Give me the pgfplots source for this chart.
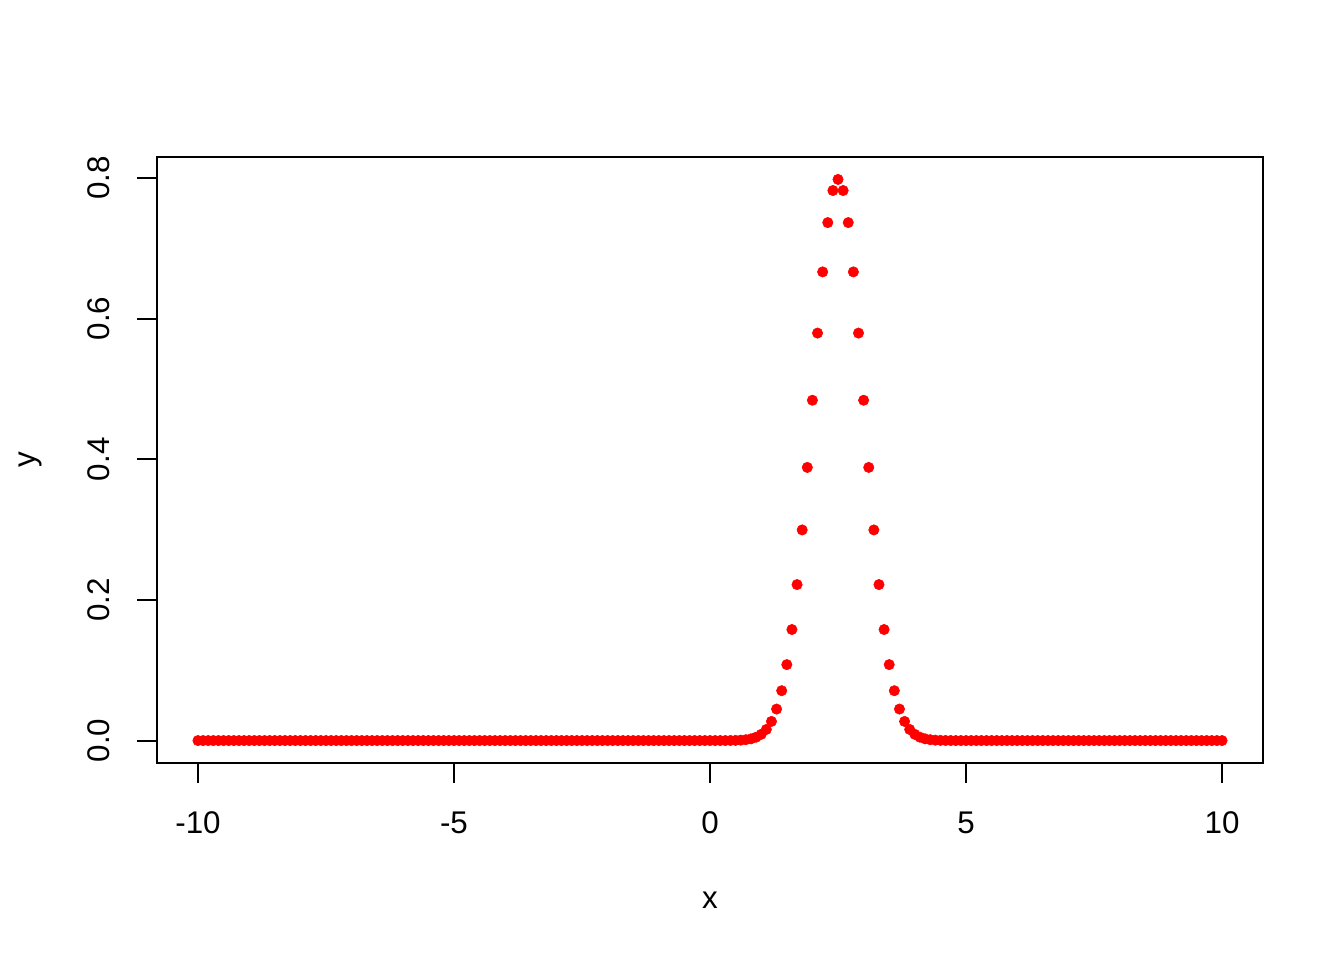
\documentclass[border=0pt]{standalone}
\usepackage{pgfplots}
\pgfplotsset{compat=1.18}
\usepackage{fontspec}
\setmainfont{Liberation Sans}
\begin{document}
\begin{tikzpicture}
\path[use as bounding box] (0,0) rectangle (1008pt,720pt);
\begin{axis}[
  at={(117.75pt,147.75pt)}, anchor=south west,
  scale only axis, width=829.5pt, height=454.5pt,
  xmin=-10.8, xmax=10.8, ymin=-0.0319, ymax=0.8298,
  axis line style={line width=1.6pt},
  every tick/.style={black, line width=1.6pt},
  tick align=outside, major tick length=15pt,
  xtick={-10,-5,0,5,10}, xticklabels={-10,-5,0,5,10},
  ytick={0,0.2,0.4,0.6,0.8}, yticklabels={0.0,0.2,0.4,0.6,0.8},
  xtick pos=bottom, ytick pos=left,
  tick label style={font=\fontsize{23.5}{27}\selectfont},
  xticklabel style={anchor=center}, xticklabel shift=30pt,
  yticklabel style={rotate=90, anchor=center}, yticklabel shift=29pt,
  label style={font=\fontsize{23.5}{27}\selectfont},
  xlabel={x}, ylabel={y},
  xlabel style={at={(axis description cs:0.5,-0.2261)}, anchor=center},
  ylabel style={at={(axis description cs:-0.1148,0.5)}, anchor=center},
  clip=false,
]
\addplot[only marks, mark=*, mark size=3.9pt, red, mark options={fill=red, draw=red}] coordinates {
(-10,0)(-9.9,0)(-9.8,0)(-9.7,0)(-9.6,0)(-9.5,0)(-9.4,0)(-9.3,0)(-9.2,0)(-9.1,0)
(-9,0)(-8.9,0)(-8.8,0)(-8.7,0)(-8.6,0)(-8.5,0)(-8.4,0)(-8.3,0)(-8.2,0)(-8.1,0)
(-8,0)(-7.9,0)(-7.8,0)(-7.7,0)(-7.6,0)(-7.5,0)(-7.4,0)(-7.3,0)(-7.2,0)(-7.1,0)
(-7,0)(-6.9,0)(-6.8,0)(-6.7,0)(-6.6,0)(-6.5,0)(-6.4,0)(-6.3,0)(-6.2,0)(-6.1,0)
(-6,0)(-5.9,0)(-5.8,0)(-5.7,0)(-5.6,0)(-5.5,0)(-5.4,0)(-5.3,0)(-5.2,0)(-5.1,0)
(-5,0)(-4.9,0)(-4.8,0)(-4.7,0)(-4.6,0)(-4.5,0)(-4.4,0)(-4.3,0)(-4.2,0)(-4.1,0)
(-4,0)(-3.9,0)(-3.8,0)(-3.7,0)(-3.6,0)(-3.5,0)(-3.4,0)(-3.3,0)(-3.2,0)(-3.1,0)
(-3,0)(-2.9,0)(-2.8,0)(-2.7,0)(-2.6,0)(-2.5,0)(-2.4,0)(-2.3,0)(-2.2,0)(-2.1,0)
(-2,0)(-1.9,0)(-1.8,0)(-1.7,0)(-1.6,0)(-1.5,0)(-1.4,0)(-1.3,0)(-1.2,0)(-1.1,0)
(-1,0)(-0.9,0)(-0.8,0)(-0.7,0)(-0.6,0)(-0.5,0)(-0.4,0)(-0.3,0)(-0.2,0)(-0.1,0)
(0,0)(0.1,0)(0.2,0)(0.3,0.00005)(0.4,0.000118)(0.5,0.000268)(0.6,0.000584)(0.7,0.00122)(0.8,0.00246)(0.9,0.00477)
(1.0,0.00886)(1.1,0.0158)(1.2,0.0272)(1.3,0.0448)(1.4,0.0709)(1.5,0.1080)(1.6,0.1579)(1.7,0.2218)(1.8,0.2995)(1.9,0.3884)
(2.0,0.4839)(2.1,0.5794)(2.2,0.6664)(2.3,0.7365)(2.4,0.7821)(2.5,0.7979)(2.6,0.7821)(2.7,0.7365)(2.8,0.6664)(2.9,0.5794)
(3.0,0.4839)(3.1,0.3884)(3.2,0.2995)(3.3,0.2218)(3.4,0.1579)(3.5,0.1080)(3.6,0.0709)(3.7,0.0448)(3.8,0.0272)(3.9,0.0158)
(4.0,0.00886)(4.1,0.00477)(4.2,0.00246)(4.3,0.00122)(4.4,0.000584)(4.5,0.000268)(4.6,0.000118)(4.7,0.00005)(4.8,0)(4.9,0)
(5,0)(5.1,0)(5.2,0)(5.3,0)(5.4,0)(5.5,0)(5.6,0)(5.7,0)(5.8,0)(5.9,0)
(6,0)(6.1,0)(6.2,0)(6.3,0)(6.4,0)(6.5,0)(6.6,0)(6.7,0)(6.8,0)(6.9,0)
(7,0)(7.1,0)(7.2,0)(7.3,0)(7.4,0)(7.5,0)(7.6,0)(7.7,0)(7.8,0)(7.9,0)
(8,0)(8.1,0)(8.2,0)(8.3,0)(8.4,0)(8.5,0)(8.6,0)(8.7,0)(8.8,0)(8.9,0)
(9,0)(9.1,0)(9.2,0)(9.3,0)(9.4,0)(9.5,0)(9.6,0)(9.7,0)(9.8,0)(9.9,0)
(10,0)
};
\end{axis}
\end{tikzpicture}
\end{document}
